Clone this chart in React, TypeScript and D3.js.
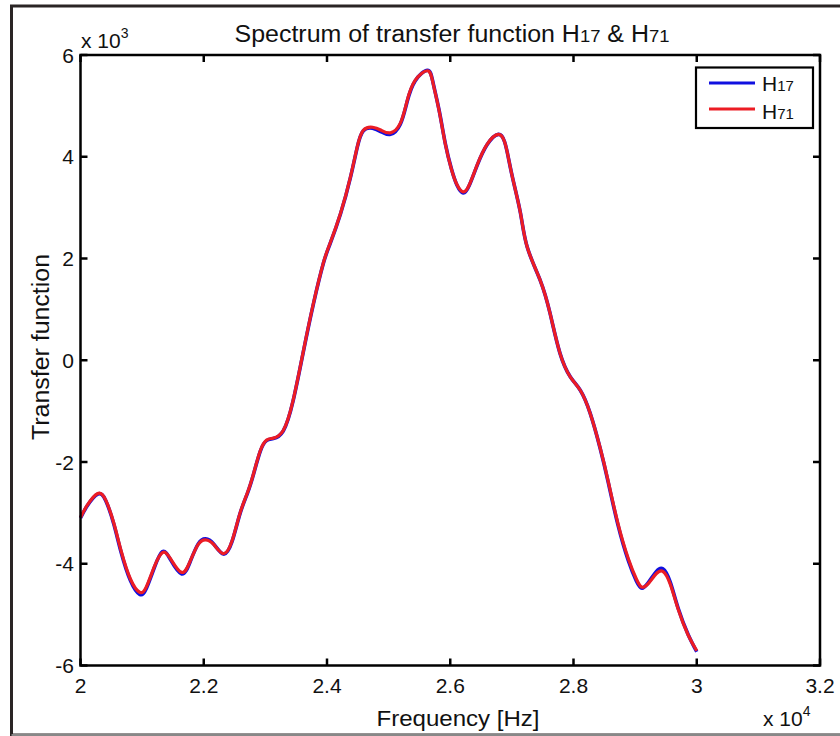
import React from "react";
import * as d3 from "d3";

// Frequency in Hz, transfer function values (raw units)
const freqs: number[] = [
  20000, 20110, 20280, 20410, 20540, 20660, 20810, 20960, 21070, 21200,
  21330, 21460, 21640, 21780, 21910, 22030, 22160, 22320, 22460, 22590,
  22710, 22810, 22920, 23020, 23130, 23290, 23450, 23620, 23780, 23940,
  24050, 24220, 24380, 24490, 24590, 24740, 24880, 25030, 25190, 25300,
  25430, 25630, 25720, 25820, 25920, 26020, 26110, 26210, 26310, 26440,
  26600, 26780, 26880, 26940, 27020, 27140, 27250, 27460, 27620, 27780,
  27950, 28110, 28270, 28430, 28560, 28720, 28890, 29020, 29110, 29220,
  29340, 29450, 29570, 29700, 29860, 30000,
];

const h71: number[] = [
  -3090, -2850, -2620, -2750, -3200, -3750, -4300, -4560, -4450, -4050,
  -3780, -3900, -4170, -3950, -3620, -3530, -3620, -3800, -3550, -3000,
  -2600, -2220, -1770, -1570, -1530, -1380, -790, 200, 1120, 1910,
  2300, 2890, 3600, 4190, 4520, 4580, 4520, 4470, 4660, 5100,
  5500, 5690, 5450, 4900, 4250, 3750, 3450, 3310, 3450, 3850,
  4250, 4440, 4300, 4000, 3540, 2890, 2220, 1570, 920, 140,
  -330, -590, -1040, -1710, -2360, -3200, -3900, -4300, -4460, -4380,
  -4200, -4150, -4400, -4900, -5400, -5710,
];

const h17: number[] = [
  -3100, -2860, -2630, -2760, -3220, -3780, -4330, -4600, -4480, -4070,
  -3760, -3920, -4200, -3960, -3610, -3510, -3610, -3810, -3560, -3010,
  -2610, -2230, -1780, -1580, -1540, -1390, -800, 190, 1110, 1900,
  2290, 2880, 3590, 4180, 4510, 4560, 4490, 4440, 4640, 5080,
  5490, 5700, 5460, 4910, 4260, 3760, 3440, 3290, 3440, 3840,
  4240, 4440, 4300, 4000, 3540, 2890, 2220, 1570, 920, 140,
  -330, -590, -1040, -1720, -2380, -3230, -3940, -4340, -4480, -4360,
  -4160, -4100, -4360, -4880, -5390, -5730,
];

const xTicks: number[] = [20000, 22000, 24000, 26000, 28000, 30000, 32000];
const xTickLabels: string[] = ["2", "2.2", "2.4", "2.6", "2.8", "3", "3.2"];
const yTicks: number[] = [-6000, -4000, -2000, 0, 2000, 4000, 6000];
const yTickLabels: string[] = ["-6", "-4", "-2", "0", "2", "4", "6"];

const seriesNames = ["17", "71"];
const seriesColors = ["#1010e0", "#ec1c24"];

const FONT = "'Liberation Sans', Arial, sans-serif";

export default function App() {
  const left = 80.5, right = 820, top = 55, bottom = 665.5;
  const x = d3.scaleLinear().domain([20000, 32000]).range([left, right]);
  const y = d3.scaleLinear().domain([-6000, 6000]).range([bottom, top]);

  const line = d3
    .line<number>()
    .x((_, i) => x(freqs[i]))
    .y((d) => y(d))
    .curve(d3.curveNatural);

  const tickLen = 7;

  return (
    <div style={{ position: "absolute", left: 0, top: 0 }}>
      <svg width={840} height={736} style={{ display: "block", background: "#fff" }}>
        {/* figure frame */}
        <rect x={11.5} y={6} width={840} height={729} fill="#fff" stroke="#2a2525" strokeWidth={3} />
        <line x1={11.5} x2={840} y1={735} y2={735} stroke="#888" strokeWidth={2} />

        {/* title */}
        <text x={452} y={42} textAnchor="middle" fontFamily={FONT} fontSize={23} fill="#111"
          textLength={435} lengthAdjust="spacingAndGlyphs">
          Spectrum of transfer function H<tspan fontSize={17}>17</tspan> &amp; H<tspan fontSize={17}>71</tspan>
        </text>

        {/* series */}
        <path d={line(h17) || ""} fill="none" stroke={seriesColors[0]} strokeWidth={3.6} strokeLinejoin="round" />
        <path d={line(h71) || ""} fill="none" stroke={seriesColors[1]} strokeWidth={3.2} strokeLinejoin="round" />

        {/* axes box */}
        <rect x={left} y={top} width={right - left} height={bottom - top} fill="none" stroke="#000" strokeWidth={2.5} />

        {/* x ticks */}
        {xTicks.map((t, i) => (
          <g key={"x" + i}>
            <line x1={x(t)} x2={x(t)} y1={bottom} y2={bottom - tickLen} stroke="#000" strokeWidth={2.5} />
            <line x1={x(t)} x2={x(t)} y1={top} y2={top + tickLen} stroke="#000" strokeWidth={2.5} />
            <text x={x(t)} y={693} textAnchor="middle" fontFamily={FONT} fontSize={21} fill="#111">
              {xTickLabels[i]}
            </text>
          </g>
        ))}

        {/* y ticks */}
        {yTicks.map((t, i) => (
          <g key={"y" + i}>
            <line x1={left} x2={left + tickLen} y1={y(t)} y2={y(t)} stroke="#000" strokeWidth={2.5} />
            <line x1={right} x2={right - tickLen} y1={y(t)} y2={y(t)} stroke="#000" strokeWidth={2.5} />
            <text x={74} y={y(t) + 7.5} textAnchor="end" fontFamily={FONT} fontSize={21} fill="#111">
              {yTickLabels[i]}
            </text>
          </g>
        ))}

        {/* exponent labels */}
        <text x={81} y={48} fontFamily={FONT} fontSize={21} fill="#111">
          x 10<tspan fontSize={14} dy={-10}>3</tspan>
        </text>
        <text x={763} y={726} fontFamily={FONT} fontSize={21} fill="#111">
          x 10<tspan fontSize={14} dy={-10}>4</tspan>
        </text>

        {/* axis labels */}
        <text x={458} y={726} textAnchor="middle" fontFamily={FONT} fontSize={22} fill="#111"
          textLength={163} lengthAdjust="spacingAndGlyphs">
          Frequency [Hz]
        </text>
        <text transform="translate(49,347) rotate(-90)" textAnchor="middle" fontFamily={FONT} fontSize={23} fill="#111"
          textLength={186} lengthAdjust="spacingAndGlyphs">
          Transfer function
        </text>

        {/* legend */}
        <rect x={696} y={67.5} width={117} height={60.5} fill="#fff" stroke="#000" strokeWidth={2.2} />
        {seriesNames.map((n, i) => (
          <g key={"l" + i}>
            <line x1={709} x2={755} y1={83 + i * 26} y2={83 + i * 26} stroke={seriesColors[i]} strokeWidth={3.2} />
            <text x={762} y={91 + i * 27.5} fontFamily={FONT} fontSize={21} fill="#111">
              H<tspan fontSize={15}>{n}</tspan>
            </text>
          </g>
        ))}
      </svg>
    </div>
  );
}
